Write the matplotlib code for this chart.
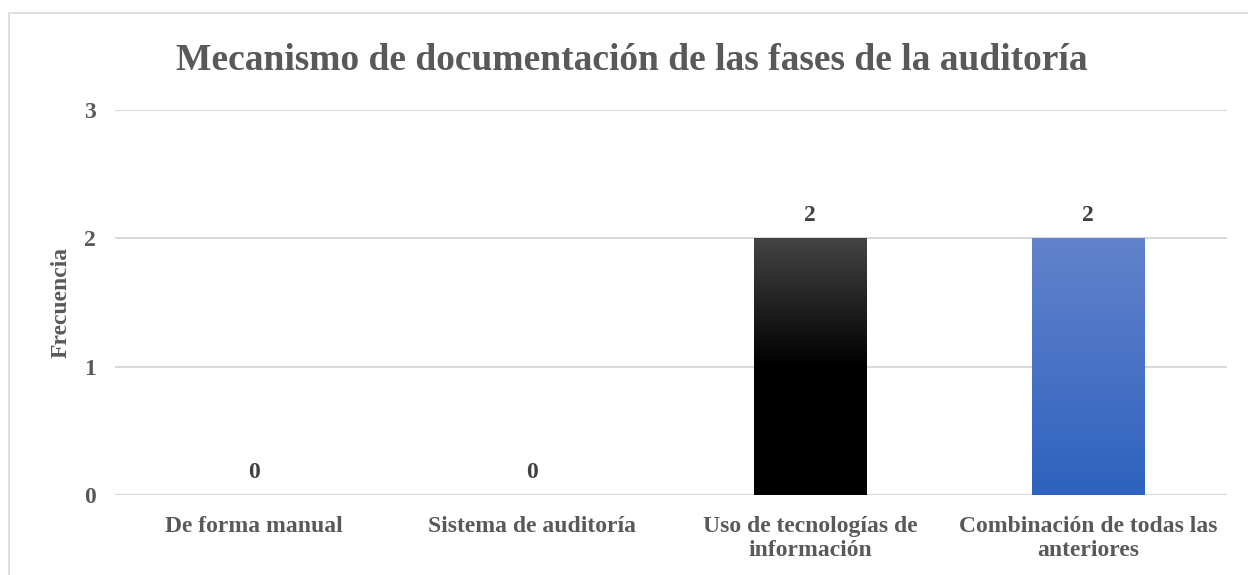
import matplotlib
matplotlib.use("Agg")
import matplotlib.pyplot as plt
import numpy as np
from matplotlib.colors import LinearSegmentedColormap
from matplotlib.patches import Rectangle
from matplotlib import patheffects

categories = ["De forma manual", "Sistema de auditoría",
              "Uso de tecnologías de\ninformación", "Combinación de todas las\nanteriores"]
values = [0, 0, 2, 2]
yticks = [0, 1, 2, 3]

title = "Mecanismo de documentación de las fases de la auditoría"
ylabel = "Frecuencia"

text_color = "#595959"
grid_color = "#D9D9D9"
plt.rcParams["font.family"] = ["Liberation Serif", "DejaVu Serif"]
plt.rcParams["font.weight"] = "bold"
plt.rcParams["axes.labelweight"] = "bold"

fig = plt.figure(figsize=(12.48, 5.75), dpi=100)
W, H = 1248, 575

# chart area border (cropped on right / bottom)
fig.patches.append(Rectangle((9 / W, -0.1), 1.1, 1 - 13 / H + 0.1,
                             transform=fig.transFigure, fill=False,
                             edgecolor=grid_color, linewidth=1.2))

ax = fig.add_axes([115 / W, 1 - 495 / H, 1112 / W, (495 - 110) / H])
x = np.arange(len(categories))
bars = ax.bar(x, values, width=0.405, color="none", zorder=3)

gradients = [None, None,
             LinearSegmentedColormap.from_list("blk", [(0, "#000000"), (0.5, "#000000"), (1, "#444444")]),
             LinearSegmentedColormap.from_list("blu", ["#2E62BE", "#6283CC"])]
grad = np.linspace(0, 1, 256).reshape(-1, 1)
for b, cmap, v in zip(bars, gradients, values):
    if v <= 0 or cmap is None:
        continue
    x0, w = b.get_x(), b.get_width()
    shadow = Rectangle((x0, 0), w, v, facecolor="white", edgecolor="none", zorder=2,
                       path_effects=[patheffects.SimplePatchShadow(offset=(0, -1.5), shadow_rgbFace="#888888", alpha=0.5)])
    ax.add_patch(shadow)
    im = ax.imshow(grad, cmap=cmap, origin="lower", aspect="auto",
                   extent=(x0, x0 + w, 0, v), zorder=3, interpolation="bicubic")
    im.set_clip_path(b)

for xi, v in zip(x, values):
    ax.annotate(str(v), (xi, v), xytext=(0, 9), textcoords="offset points",
                ha="center", va="bottom", fontsize=17, color="#404040", fontweight="bold")

ax.set_xlim(-0.5, len(categories) - 0.5)
ax.set_ylim(0, 3)
ax.set_yticks(yticks)
ax.set_xticks(x)
ax.set_xticklabels(categories, fontsize=17, color=text_color, linespacing=1.2)
ax.tick_params(axis="y", length=0, pad=14, labelsize=17, labelcolor=text_color)
ax.tick_params(axis="x", length=0, pad=15)
ax.grid(axis="y", color=grid_color, linewidth=1.5, zorder=0)
ax.set_axisbelow(True)
for s in ax.spines.values():
    s.set_visible(False)

ax.set_ylabel(ylabel, fontsize=17, color=text_color, fontweight="bold", va="center")
ax.yaxis.set_label_coords((61 - 115) / 1112, (495 - 302) / 385)
fig.text(632 / W, 1 - 60 / H, title, ha="center", va="center",
         fontsize=27, color=text_color, fontweight="bold")

fig.savefig("out.png", dpi=100)
